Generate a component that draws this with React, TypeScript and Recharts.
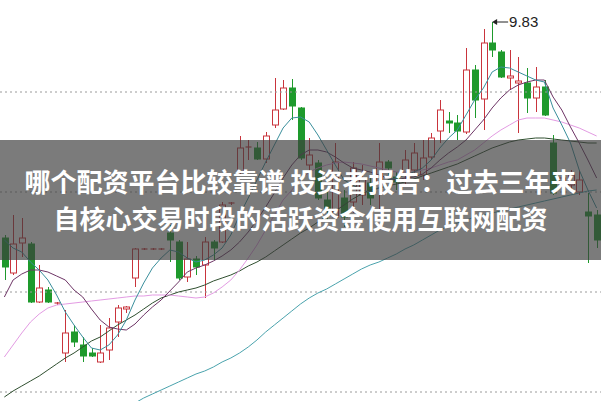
import React from "react";
import { ComposedChart, Bar, Line, XAxis, YAxis, ReferenceLine, ReferenceDot } from "recharts";

const days = Array.from({ length: 69 }, (_, i) => i);

const opens = [
  8.75, 8.575, 8.725, 8.72, 8.43, 8.49, 8.42, 8.175, 8.28, 8.215, 8.175, 8.13, 8.19, 8.33, 8.395, 8.55, 8.695, 8.695,
  8.695, 8.775, 8.73, 8.555, 8.645, 8.615, 8.73, 8.73, 8.92, 9.08, 9.2, 9.2, 9.145, 9.315, 9.395, 9.5, 9.4, 9.115,
  9.125, 8.94, 8.855, 8.95, 8.93, 8.965, 9.025, 9.025, 9.13, 9.055, 9.065, 9.09, 9.065, 9.155, 9.285, 9.335, 9.325,
  9.28, 9.59, 9.445, 9.725, 9.68, 9.55, 9.525, 9.525, 9.45, 9.505, 9.225, 9.03, 9.015, 8.98, 8.88, 8.865,
];
const highs = [
  8.765, 8.865, 8.85, 8.73, 8.615, 8.505, 8.43, 8.39, 8.315, 8.255, 8.2, 8.315, 8.35, 8.415, 8.41, 8.7, 8.7, 8.7, 8.7,
  8.815, 8.74, 8.73, 8.66, 8.755, 8.74, 8.93, 8.93, 9.26, 9.24, 9.23, 9.28, 9.55, 9.54, 9.545, 9.405, 9.25, 9.14, 8.99,
  9.225, 8.99, 9.13, 9.115, 9.065, 9.225, 9.14, 9.08, 9.19, 9.225, 9.24, 9.275, 9.44, 9.38, 9.365, 9.7, 9.615, 9.795,
  9.83, 9.69, 9.69, 9.655, 9.6, 9.605, 9.54, 9.265, 9.08, 9.09, 9.09, 8.975, 8.89,
];
const lows = [
  8.54, 8.565, 8.655, 8.425, 8.425, 8.425, 8.415, 8.13, 8.205, 8.13, 8.155, 8.125, 8.14, 8.255, 8.375, 8.505, 8.69,
  8.69, 8.69, 8.63, 8.54, 8.53, 8.565, 8.45, 8.64, 8.725, 8.915, 9.065, 9.14, 9.14, 9.125, 9.3, 9.39, 9.34, 9.14,
  9.065, 8.94, 8.84, 8.85, 8.805, 8.875, 8.915, 8.915, 8.89, 9.04, 8.99, 9.015, 9.065, 9.04, 9.14, 9.225, 9.275, 9.24,
  9.27, 9.35, 9.29, 9.655, 9.55, 9.49, 9.275, 9.375, 9.38, 9.36, 8.965, 8.99, 8.98, 8.965, 8.625, 8.7,
];
const closes = [
  8.605, 8.72, 8.75, 8.43, 8.5, 8.43, 8.425, 8.275, 8.23, 8.16, 8.16, 8.175, 8.3, 8.4, 8.405, 8.695, 8.695, 8.695,
  8.695, 8.74, 8.55, 8.645, 8.605, 8.73, 8.7, 8.915, 8.925, 9.2, 9.205, 9.145, 9.26, 9.39, 9.5, 9.41, 9.15, 9.165,
  8.95, 8.89, 9.13, 8.855, 9.1, 9.05, 8.95, 9.13, 9.1, 9.03, 9.14, 9.175, 9.15, 9.25, 9.39, 9.325, 9.285, 9.59, 9.44,
  9.725, 9.69, 9.555, 9.56, 9.535, 9.45, 9.505, 9.365, 8.975, 9.05, 9.065, 9.04, 8.86, 8.74,
];

const ma5 = [
  8.74, 8.7, 8.68, 8.63, 8.59, 8.54, 8.465, 8.38, 8.315, 8.255, 8.2, 8.19, 8.215, 8.265, 8.34, 8.44, 8.525, 8.6, 8.65,
  8.69, 8.68, 8.65, 8.63, 8.64, 8.665, 8.7, 8.765, 8.865, 8.95, 9.04, 9.13, 9.215, 9.3, 9.35, 9.355, 9.33, 9.265, 9.19,
  9.115, 9.04, 9.015, 8.99, 8.98, 9.0, 9.04, 9.05, 9.065, 9.08, 9.1, 9.14, 9.2, 9.25, 9.29, 9.365, 9.44, 9.5, 9.58,
  9.605, 9.6, 9.58, 9.56, 9.54, 9.53, 9.4, 9.315, 9.225, 9.09, 8.99, 8.9,
];
const ma10 = [
  8.455, 8.54, 8.57, 8.59, 8.59, 8.58, 8.56, 8.54, 8.49, 8.455, 8.395, 8.34, 8.305, 8.295, 8.29, 8.32, 8.365, 8.405,
  8.44, 8.485, 8.53, 8.58, 8.6, 8.615, 8.635, 8.66, 8.69, 8.73, 8.78, 8.84, 8.905, 8.975, 9.05, 9.115, 9.165, 9.19,
  9.19, 9.18, 9.155, 9.125, 9.1, 9.09, 9.08, 9.065, 9.05, 9.04, 9.05, 9.055, 9.07, 9.1, 9.14, 9.175, 9.205, 9.24, 9.29,
  9.34, 9.4, 9.45, 9.49, 9.515, 9.53, 9.54, 9.54, 9.455, 9.39, 9.305, 9.225, 9.14, 9.05,
];
const ma20 = [
  8.155, 8.215, 8.275, 8.33, 8.37, 8.4, 8.415, 8.42, 8.425, 8.43, 8.435, 8.44, 8.445, 8.45, 8.455, 8.46, 8.46, 8.465,
  8.465, 8.465, 8.46, 8.455, 8.45, 8.455, 8.475, 8.505, 8.54, 8.59, 8.65, 8.715, 8.79, 8.865, 8.94, 8.99, 9.04, 9.08,
  9.1, 9.115, 9.125, 9.13, 9.125, 9.12, 9.11, 9.1, 9.09, 9.08, 9.08, 9.08, 9.09, 9.1, 9.115, 9.13, 9.14, 9.165, 9.19,
  9.225, 9.26, 9.29, 9.315, 9.34, 9.35, 9.35, 9.35, 9.34, 9.33, 9.315, 9.3, 9.28, 9.26,
];
const ma30 = [
  7.955, 7.985, 8.01, 8.035, 8.06, 8.09, 8.12, 8.15, 8.175, 8.205, 8.235, 8.255, 8.285, 8.315, 8.34, 8.365, 8.395,
  8.425, 8.45, 8.465, 8.48, 8.49, 8.5, 8.515, 8.535, 8.55, 8.565, 8.585, 8.61, 8.63, 8.655, 8.685, 8.715, 8.745, 8.775,
  8.8, 8.83, 8.86, 8.885, 8.915, 8.945, 8.97, 8.99, 9.0, 9.01, 9.02, 9.03, 9.045, 9.06, 9.075, 9.09, 9.105, 9.12, 9.14,
  9.16, 9.18, 9.2, 9.215, 9.23, 9.24, 9.245, 9.25, 9.25, 9.245, 9.24, 9.235, 9.23, 9.225, 9.225,
];
const ma120 = [
  null, null, null, null, null, null, null, null, null, null, null, null, null, null, null, 7.925, 7.95, 7.97, 7.99,
  8.01, 8.03, 8.05, 8.07, 8.085, 8.105, 8.13, 8.15, 8.175, 8.205, 8.24, 8.28, 8.315, 8.35, 8.385, 8.42, 8.45, 8.475,
  8.495, 8.52, 8.545, 8.57, 8.595, 8.615, 8.63, 8.65, 8.67, 8.695, 8.715, 8.74, 8.765, 8.79, 8.81, 8.825, 8.84, 8.855,
  8.865, 8.875, 8.885, 8.895, 8.905, 8.915, 8.925, 8.935, 8.945, 8.955, 8.965, 8.975, 8.985, 8.99,
];

const gridLevels = [9.48, 8.98, 8.48, 7.98];
const peakDay = 56;
const peakLabel = "9.83";
const titleLines = ["哪个配资平台比较靠谱 投资者报告：过去三年来", "自核心交易时段的活跃资金使用互联网配资"];

const data = days.map((d, i) => ({
  day: d,
  open: opens[i],
  high: highs[i],
  low: lows[i],
  close: closes[i],
  ma5: ma5[i],
  ma10: ma10[i],
  ma20: ma20[i],
  ma30: ma30[i],
  ma120: ma120[i],
}));

const RED = "#c9343c";
const GREEN = "#1e9a2c";

function Candle(props: any) {
  const { x, y, width, height, payload } = props;
  const { open, close, high, low } = payload;
  const up = close >= open;
  const h = Math.abs(height);
  const top = Math.min(y, y + height);
  const ratio = h / (high - low || 1);
  const yOf = (v: number) => top + (high - v) * ratio;
  const cx = Math.round(x + width / 2) + 0.5;
  const bTop = yOf(Math.max(open, close));
  const bBot = yOf(Math.min(open, close));
  const color = up ? RED : GREEN;
  const bw = 6;
  if (bBot - bTop < 1.5) {
    return (
      <g>
        <line x1={cx} x2={cx} y1={top} y2={top + h} stroke={color} strokeWidth={1} />
        <line x1={cx - bw / 2} x2={cx + bw / 2} y1={bTop} y2={bTop} stroke={color} strokeWidth={1.2} />
      </g>
    );
  }
  return (
    <g>
      <line x1={cx} x2={cx} y1={top} y2={bTop} stroke={color} strokeWidth={1} />
      <line x1={cx} x2={cx} y1={bBot} y2={top + h} stroke={color} strokeWidth={1} />
      <rect
        x={cx - bw / 2}
        y={bTop}
        width={bw}
        height={bBot - bTop}
        fill={up ? "#ffffff" : color}
        stroke={color}
        strokeWidth={1}
      />
    </g>
  );
}

function PeakMarker(props: any) {
  const { cx, cy } = props;
  return (
    <g>
      <path d={`M${cx},${cy} l5,-3 l0,6 z`} fill="#222" />
      <line x1={cx + 4} x2={cx + 16} y1={cy} y2={cy} stroke="#222" strokeWidth={1} />
      <text x={cx + 17} y={cy + 5} fontSize={15} fill="#222" fontFamily="Liberation Sans, Arial, sans-serif">
        {peakLabel}
      </text>
    </g>
  );
}

const lineProps = {
  dot: false,
  activeDot: false,
  strokeWidth: 1,
  isAnimationActive: false,
  legendType: "none" as const,
} as any;

export default function App() {
  return (
    <div style={{ position: "absolute", left: 0, top: 0, width: 601, height: 401, background: "#fff" }}>
      <ComposedChart width={601} height={401} data={data} margin={{ top: 0, right: 0, bottom: 0, left: 0 }}>
        <XAxis dataKey="day" hide padding={{ left: 0, right: 0 }} />
        <YAxis hide type="number" domain={[7.935, 9.94]} allowDataOverflow />
        {gridLevels.map((g) => (
          <ReferenceLine key={g} y={g} stroke="#9a9a9a" strokeDasharray="2 3" />
        ))}
        <Line dataKey="ma120" stroke="#4aa3ad" {...lineProps} />
        <Line dataKey="ma30" stroke="#2f4f2f" {...lineProps} />
        <Line dataKey="ma20" stroke="#e39be3" {...lineProps} />
        <Bar
          dataKey={(d: any) => [d.low, d.high]}
          barSize={7}
          shape={<Candle />}
          isAnimationActive={false}
        />
        <Line dataKey="ma10" stroke="#6e3566" {...lineProps} />
        <Line dataKey="ma5" stroke="#3a8f9c" {...lineProps} />
        <ReferenceDot x={peakDay} y={highs[peakDay]} r={0} shape={<PeakMarker />} />
      </ComposedChart>
      <div
        style={{
          position: "absolute",
          left: 0,
          top: 140,
          width: 601,
          height: 120,
          background: "rgba(60,60,60,0.68)",
          color: "#fff",
          fontFamily: "'Noto Sans CJK SC', sans-serif",
          fontWeight: 700,
          fontSize: 26,
          lineHeight: "37px",
          textAlign: "center",
          paddingTop: 22,
          boxSizing: "border-box",
          whiteSpace: "nowrap",
        }}
      >
        {titleLines.map((t) => (
          <div key={t}>{t}</div>
        ))}
      </div>
    </div>
  );
}
